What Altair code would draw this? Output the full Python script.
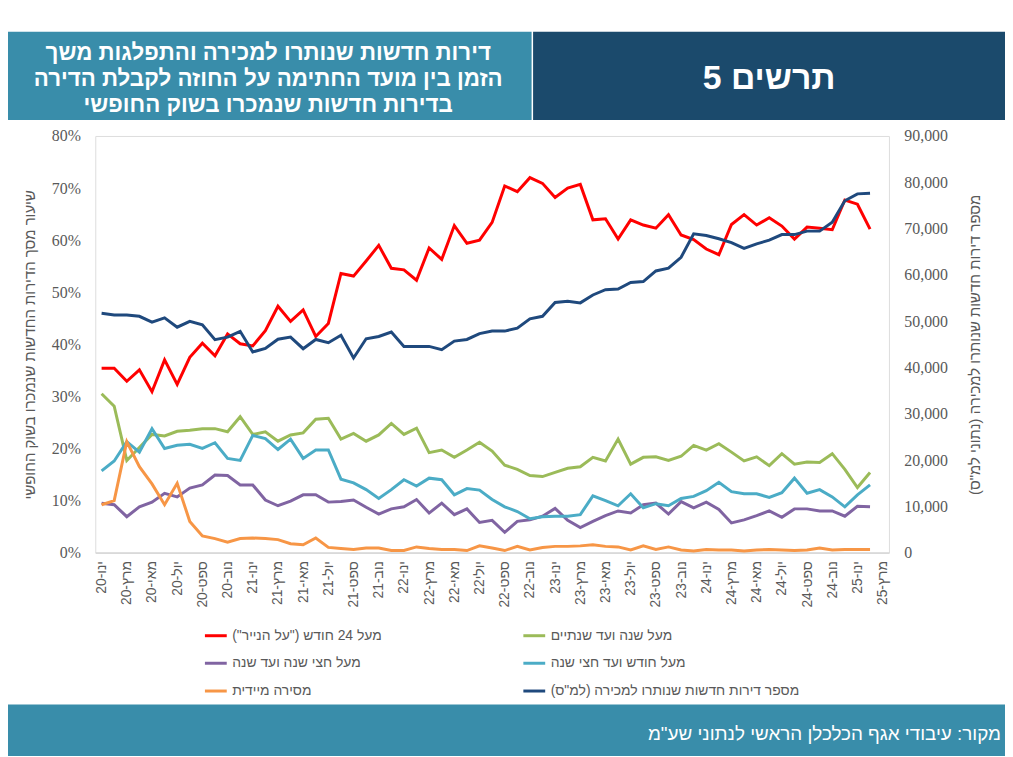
import altair as alt
import pandas as pd

# ---------------- data ----------------
months = [
    "ינו-20", "פבר-20", "מרץ-20", "אפר-20", "מאי-20", "יונ-20", "יול-20", "אוג-20", "ספט-20", "אוק-20", "נוב-20", "דצמ-20",
    "ינו-21", "פבר-21", "מרץ-21", "אפר-21", "מאי-21", "יונ-21", "יול-21", "אוג-21", "ספט-21", "אוק-21", "נוב-21", "דצמ-21",
    "ינו-22", "פבר-22", "מרץ-22", "אפר-22", "מאי-22", "יונ-22", "יולי22", "אוג-22", "ספט-22", "אוק-22", "נוב-22", "דצמ-22",
    "ינו-23", "פבר-23", "מרץ-23", "אפר-23", "מאי-23", "יונ-23", "יול-23", "אוג-23", "ספט-23", "אוק-23", "נוב-23", "דצמ-23",
    "ינו-24", "פבר-24", "מרץ-24", "אפר-24", "מאי-24", "יונ-24", "יול-24", "אוג-24", "ספט-24", "אוק-24", "נוב-24", "דצמ-24",
    "ינו-25", "פבר-25", "מרץ-25",
]
tick_labels = months[::2]

RLM = "\u200f"
s_red = "מעל 24 חודש (\"על הנייר\")" + RLM
s_green = "מעל שנה ועד שנתיים"
s_purple = "מעל חצי שנה ועד שנה"
s_cyan = "מעל חודש ועד חצי שנה"
s_orange = "מסירה מיידית"
s_navy = "מספר דירות חדשות שנותרו למכירה (למ\"ס)" + RLM

over24 = [35.4, 35.4, 32.9, 35.1, 30.9, 37.0, 32.3, 37.5, 40.2, 37.8, 42.0, 40.1, 39.7, 42.6, 47.3, 44.4,
          46.6, 41.5, 44.0, 53.6, 53.1, 56.0, 59.0, 54.6, 54.3, 52.3, 58.5, 56.3, 62.8, 59.4, 60.0, 63.4,
          70.4, 69.3, 72.0, 70.9, 68.2, 70.0, 70.7, 63.9, 64.1, 60.2, 63.9, 62.9, 62.3, 64.9, 61.0, 60.1,
          58.3, 57.2, 63.0, 64.9, 62.9, 64.3, 62.7, 60.2, 62.5, 62.3, 62.0, 67.7, 66.9, 62.1]
year_to_two = [30.5, 28.1, 17.7, 20.2, 22.7, 22.4, 23.3, 23.5, 23.8, 23.8, 23.2, 26.1, 22.7, 23.2, 21.4, 22.6,
               23.0, 25.6, 25.8, 21.8, 22.9, 21.4, 22.6, 24.8, 22.7, 23.9, 19.2, 19.7, 18.3, 19.7, 21.2, 19.5,
               16.8, 16.0, 14.8, 14.6, 15.4, 16.2, 16.5, 18.3, 17.6, 21.8, 17.0, 18.3, 18.4, 17.7, 18.5, 20.6,
               19.7, 20.9, 19.3, 17.6, 18.4, 16.7, 19.0, 17.0, 17.4, 17.3, 19.0, 16.0, 12.5, 15.4]
half_to_year = [9.5, 9.2, 6.9, 8.8, 9.7, 11.4, 10.7, 12.4, 13.0, 14.9, 14.8, 13.0, 13.0, 10.1, 9.0, 9.9,
                11.1, 11.1, 9.7, 9.8, 10.1, 8.7, 7.4, 8.4, 8.8, 10.2, 7.6, 9.5, 7.3, 8.4, 5.8, 6.2,
                3.9, 6.0, 6.3, 7.0, 8.5, 6.2, 4.8, 6.0, 7.1, 8.0, 7.6, 9.2, 9.5, 7.4, 9.8, 8.6,
                9.7, 8.3, 5.7, 6.3, 7.1, 8.0, 6.8, 8.4, 8.4, 8.0, 8.0, 7.0, 8.9, 8.8]
month_to_half = [15.7, 17.6, 21.3, 19.3, 23.8, 20.0, 20.6, 20.8, 20.0, 21.1, 18.1, 17.7, 22.5, 21.9, 19.8, 21.8,
                 18.1, 19.7, 19.7, 14.1, 13.4, 12.1, 10.4, 12.1, 14.0, 12.8, 14.3, 14.0, 11.1, 12.3, 12.0, 10.2,
                 8.8, 7.9, 6.5, 6.9, 7.0, 7.0, 7.3, 10.9, 10.0, 9.0, 11.3, 8.6, 9.4, 9.0, 10.4, 10.8,
                 11.9, 13.5, 11.7, 11.3, 11.3, 10.6, 11.5, 14.3, 11.4, 12.1, 10.7, 8.8, 11.1, 13.0]
immediate = [9.2, 10.0, 21.3, 16.5, 13.2, 9.2, 13.3, 6.0, 3.2, 2.7, 2.0, 2.7, 2.8, 2.7, 2.5, 1.7,
             1.5, 2.8, 1.0, 0.8, 0.6, 0.9, 0.9, 0.4, 0.4, 1.1, 0.8, 0.6, 0.6, 0.4, 1.3, 0.9,
             0.4, 1.2, 0.5, 1.0, 1.2, 1.2, 1.3, 1.5, 1.2, 1.1, 0.5, 1.3, 0.6, 1.1, 0.5, 0.3,
             0.6, 0.5, 0.5, 0.3, 0.5, 0.6, 0.5, 0.4, 0.5, 0.9, 0.5, 0.6, 0.6, 0.6]
unsold = [51700, 51350, 51350, 51050, 49800, 50700, 48700, 49950, 49200, 46000, 46550, 47800, 43350, 44100, 46100, 46550,
          44050, 46050, 45350, 46950, 42050, 46200, 46700, 47650, 44550, 44550, 44550, 43850, 45700, 46050, 47300, 47850,
          47850, 48500, 50500, 51050, 54050, 54300, 53950, 55650, 56800, 56950, 58350, 58550, 60850, 61450, 63800, 68850,
          68500, 67800, 66950, 65700, 66700, 67500, 68700, 68700, 69450, 69450, 71350, 76000, 77500, 77650]

# legend fills column by column: first column red/purple/orange, second green/cyan/navy
series_order = [s_red, s_purple, s_orange, s_green, s_cyan, s_navy]
series_colors = ["#FF0000", "#8064A2", "#F79646", "#9BBB59", "#4BACC6", "#1F497D"]

pct_rows = []
for name, vals in [(s_red, over24), (s_green, year_to_two), (s_purple, half_to_year),
                   (s_cyan, month_to_half), (s_orange, immediate)]:
    for i, v in enumerate(vals):
        pct_rows.append({"month": months[i], "i": i, "series": name, "value": v})
df_pct = pd.DataFrame(pct_rows)
df_stock = pd.DataFrame({"month": months[:len(unsold)], "i": list(range(len(unsold))),
                         "series": s_navy, "value": unsold})
dummy = pd.DataFrame({"k": [0]})

# ---------------- style ----------------
GRAY = "#595959"
SANS = "Liberation Sans"
SERIF = "Liberation Serif"
TEAL = "#398DAA"
NAVY_BOX = "#1B4A6C"

x_enc = alt.X(
    "month:N", sort=months,
    scale=alt.Scale(type="point", domain=months, padding=0.5),
    axis=alt.Axis(values=tick_labels, labelAngle=270, title=None, ticks=False, grid=False,
                  domainColor="#D9D9D9", domainWidth=2, labelColor=GRAY, labelFont=SANS,
                  labelFontSize=14, labelPadding=8),
)

color_enc = alt.Color(
    "series:N",
    scale=alt.Scale(domain=series_order, range=series_colors),
    legend=alt.Legend(orient="none", legendX=109, legendY=491, columns=2, title=None,
                      symbolType="stroke", symbolStrokeWidth=3, symbolSize=484,
                      labelFont=SANS, labelFontSize=14, labelColor=GRAY, labelLimit=500,
                      labelOffset=4, columnPadding=136, rowPadding=8),
)

pct_lines = alt.Chart(df_pct).mark_line(strokeWidth=3).encode(
    x=x_enc,
    y=alt.Y("value:Q", scale=alt.Scale(domain=[0, 80]),
            axis=alt.Axis(orient="left", values=list(range(0, 81, 10)), labelExpr="datum.value + '%'",
                          ticks=False, domain=False, grid=False, labelFont=SERIF, labelFontSize=16,
                          labelColor=GRAY, labelPadding=15,
                          title="שיעור מסך הדירות החדשות שנמכרו בשוק החופשי",
                          titleFont=SANS, titleFontSize=15, titleFontWeight="normal", titleColor=GRAY,
                          titleAngle=270, titleX=-66, titleY=210, titleAlign="center",
                          titleBaseline="middle")),
    color=color_enc,
    order=alt.Order("i:Q"),
)

stock_line = alt.Chart(df_stock).mark_line(strokeWidth=3).encode(
    x=x_enc,
    y=alt.Y("value:Q", scale=alt.Scale(domain=[0, 90000]),
            axis=alt.Axis(orient="right", values=list(range(0, 90001, 10000)), format=",.0f",
                          ticks=False, domain=False, grid=False, labelFont=SERIF, labelFontSize=16,
                          labelColor=GRAY, labelPadding=15,
                          title="מספר דירות חדשות שנותרו למכירה (נתוני למ\"ס)" + RLM,
                          titleFont=SANS, titleFontSize=15, titleFontWeight="normal", titleColor=GRAY,
                          titleAngle=270, titleX=86, titleY=210, titleAlign="center",
                          titleBaseline="middle")),
    color=color_enc,
    order=alt.Order("i:Q"),
)

def box(x1, x2, y1, y2, color):
    return alt.Chart(dummy).mark_rect(color=color).encode(
        x=alt.value(x1), x2=alt.value(x2), y=alt.value(y1), y2=alt.value(y2))

def label(txt, x, y, size, weight="normal", align="center"):
    return alt.Chart(dummy).mark_text(text=txt, font=SANS, fontSize=size, fontWeight=weight,
                                      color="white", align=align, baseline="middle").encode(
        x=alt.value(x), y=alt.value(y))

header_left = box(-92, 439.8, -105, -16, TEAL)
header_right = box(441.3, 920, -105, -16, NAVY_BOX)
footer = box(-92, 920, 573, 625, TEAL)

title1 = label("דירות חדשות שנותרו למכירה והתפלגות משך", 174.3, -83.3, 22.5, "bold")
title2 = label("הזמן בין מועד החתימה על החוזה לקבלת הדירה", 174.3, -57.3, 22.5, "bold")
title3 = label("בדירות חדשות שנמכרו בשוק החופשי", 174.3, -31.3, 22.5, "bold")
fig_no = label("5 תרשים", 679.3, -57, 34, "bold")
source = label("מקור: עיבודי אגף הכלכלן הראשי לנתוני שע\"מ", 913, 603, 19, "normal", "right")

chart = alt.layer(
    header_left, header_right, footer, title1, title2, title3, fig_no, source,
    pct_lines, stock_line,
).resolve_scale(y="independent").properties(
    width=800, height=420,
    padding={"left": 88, "top": 126, "right": 117, "bottom": 203},
    autosize=alt.AutoSizeParams(type="none"),
).configure_view(stroke=None).configure(background="white")

chart.save("out.html", embed_options={"renderer": "svg", "actions": False})
